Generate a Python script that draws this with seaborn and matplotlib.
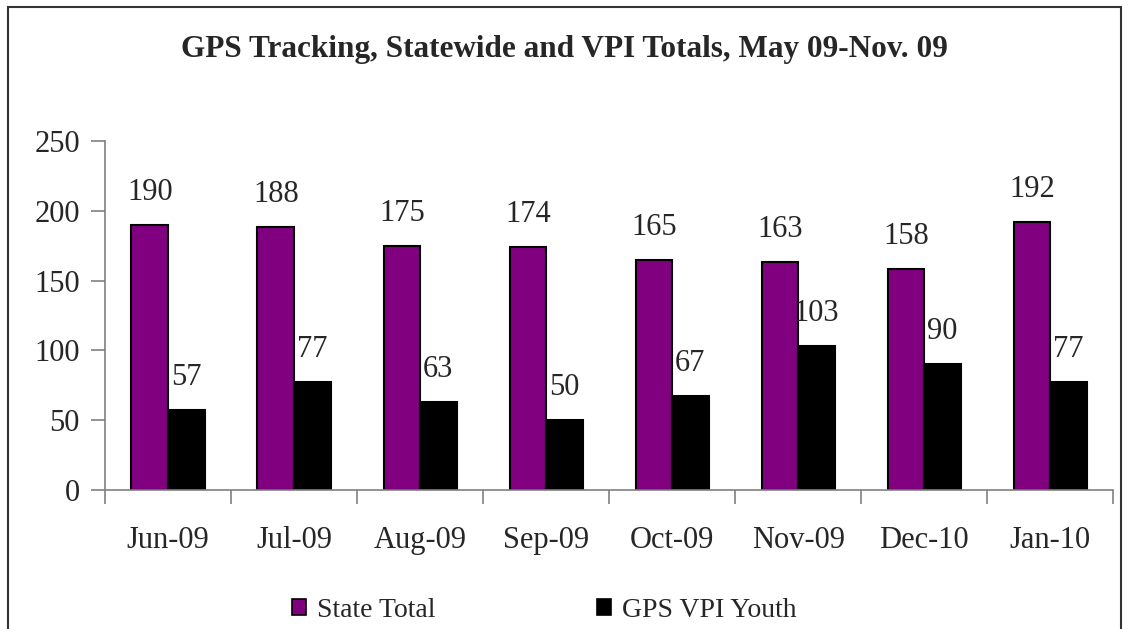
import pandas as pd
import matplotlib.pyplot as plt
import seaborn as sns
from matplotlib.patches import Rectangle, Patch

# data
months = ["Jun-09", "Jul-09", "Aug-09", "Sep-09", "Oct-09", "Nov-09", "Dec-10", "Jan-10"]
state_total = [190, 188, 175, 174, 165, 163, 158, 192]
gps_vpi_youth = [57, 77, 63, 50, 67, 103, 90, 77]
series_names = ["State Total", "GPS VPI Youth"]
colors = ["#800080", "#000000"]

df = pd.DataFrame({
    "month": months * 2,
    "value": state_total + gps_vpi_youth,
    "series": [series_names[0]] * len(months) + [series_names[1]] * len(months),
})

sns.set_style("white")
plt.rcParams["font.family"] = ["Liberation Serif", "DejaVu Serif"]

fig = plt.figure(figsize=(11.29, 6.29), dpi=100)
ax = fig.add_axes([0.093, 0.221, 0.893, 0.555])

sns.barplot(
    data=df, x="month", y="value", hue="series",
    hue_order=series_names, order=months,
    palette=dict(zip(series_names, colors)), saturation=1,
    width=0.58, edgecolor="black", linewidth=1.5,
    ax=ax, legend=False,
)

for container in ax.containers:
    ax.bar_label(container, padding=13, fontsize=22)

ax.set_ylim(0, 250)
ax.set_yticks(range(0, 251, 50))
ax.set_xlim(-0.5, len(months) - 0.5)
ax.set_xlabel("")
ax.set_ylabel("")

for side in ["top", "right"]:
    ax.spines[side].set_visible(False)
for side in ["left", "bottom"]:
    ax.spines[side].set_color("#808080")
    ax.spines[side].set_linewidth(1.2)

ax.tick_params(axis="y", which="major", direction="out", length=10, width=1.2,
               color="#808080", labelsize=22, pad=8, left=True)
ax.tick_params(axis="x", which="major", length=0, labelsize=22, pad=26)
ax.set_xticks([i + 0.5 for i in range(-1, len(months))], minor=True)
ax.tick_params(axis="x", which="minor", direction="out", length=10, width=1.2,
               color="#808080", bottom=True)

fig.text(0.5, 1 - 50 / 629, "GPS Tracking, Statewide and VPI Totals, May 09-Nov. 09",
         ha="center", va="center", fontsize=22.5, fontweight="bold")

handles = [Patch(facecolor=c, edgecolor="black", linewidth=1.2) for c in colors]
fig.legend(handles, series_names, loc="center", bbox_to_anchor=(0.482, 0.03),
           ncol=2, frameon=False, fontsize=20, handlelength=0.5, handleheight=0.5,
           handletextpad=0.4, columnspacing=5.8)

# outer chart border (runs off the bottom edge as in the reference)
fig.patches.append(Rectangle((8 / 1129, -0.05), 1113 / 1129, 1 - 7 / 629 + 0.05,
                             transform=fig.transFigure, fill=False,
                             edgecolor="#333333", linewidth=1.5))

fig.savefig("out.png", dpi=100)
